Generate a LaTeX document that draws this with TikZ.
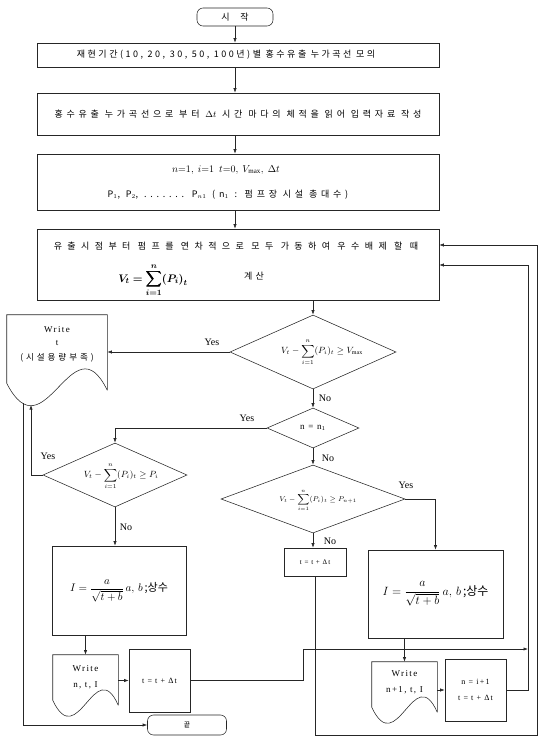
\documentclass[tikz,border=0pt]{standalone}
\usepackage{amsmath}
\usepackage{bm}
\usepackage{fontspec}
\setmainfont{Liberation Serif}
\newfontfamily\kr{Noto Sans CJK KR}[LetterSpace=35]
\newfontfamily\kra{Noto Sans CJK KR}[LetterSpace=28]
\newfontfamily\krb{Noto Sans CJK KR}[LetterSpace=42]
\newfontfamily\krw{Noto Sans CJK KR}[LetterSpace=60]
\newfontfamily\krn{Noto Sans CJK KR}
\newfontfamily\spc{Liberation Serif}[LetterSpace=15]
\usetikzlibrary{calc,arrows.meta,shapes.geometric}
\begin{document}
\begin{tikzpicture}[x=1pt,y=-1pt,line width=0.55pt,draw=black!85,
  >={Latex[length=4.5pt,width=3.2pt]},
  box/.style={draw,rectangle,inner sep=0pt},
  dia/.style={draw,diamond,inner sep=0pt},
  term/.style={draw,rounded corners=6pt,inner sep=0pt},
  ghost/.style={rectangle,inner sep=0pt},
  lab/.style={font=\fontsize{10}{12}\selectfont,inner sep=0pt},
  krt/.style={font=\kr\fontsize{9}{11}\selectfont},
  sm/.style={font=\spc\fontsize{8}{10}\selectfont,align=center,inner sep=0pt},
  frm/.style={font=\fontsize{9}{10}\selectfont,inner sep=0pt}
]
\useasboundingbox (0,0) rectangle (539,738);

% ---- nodes ----
\node[term,minimum width=76pt,minimum height=18pt,font=\krn\fontsize{9}{10}\selectfont] (start) at (235,17) {시\hspace{1.2em}작};
\node[box,minimum width=402pt,minimum height=24pt] (b1) at (238,55) {};
\node[inner sep=0pt,font=\kra\fontsize{9}{11}\selectfont] (b1t) at (226,55) {재현기간(10, 20, 30, 50, 100년)별 홍수유출 누가곡선 모의};
\node[box,minimum width=402pt,minimum height=42pt,font=\krb\fontsize{9}{11}\selectfont] (b2) at (238,114) {홍수유출 누가곡선으로 부터 {\rmfamily$\Delta t$} 시간 마다의 체적을 읽어 입력자료 작성};
\node[box,minimum width=402pt,minimum height=56pt] (b3) at (238,182) {};
\node[inner sep=0pt,font=\fontsize{10}{12}\selectfont] (b3a) at (226,170) {$n{=}1,\ i{=}1\ \ t{=}0,\ V_{\max},\ \Delta t$};
\node[inner sep=0pt,font=\krb\fontsize{9}{11}\selectfont] (b3b) at (228,195) {P$_1$, P$_2$, ....... P$_{n1}$ (n$_1$ : 펌프장 시설 총대수)};
\node[box,minimum width=402pt,minimum height=71pt] (b4) at (238,264.5) {};
\node[inner sep=0pt,font=\krw\fontsize{9}{11}\selectfont] (b4t) at (236,246) {유출시점부터 펌프를 연차적으로 모두 가동하여 우수배제 할 때};
\node[inner sep=0pt,font=\fontsize{11}{13}\selectfont] (b4f) at (153,280) {$\displaystyle\bm{V_t=\sum_{i=1}^{n}(P_i)_t}$};
\node[krt] (b4k) at (254,276) {계산};

\node[dia,minimum width=166pt,minimum height=74pt] (d1) at (313,352) {};
\node[frm] (d1t) at (322,352) {$V_t-\displaystyle\sum_{i=1}^{n}(P_i)_t\ge V_{\max}$};
\node[dia,minimum width=92pt,minimum height=40pt] (d2) at (313,428) {};
\node[frm] (d2t) at (313,428) {n\, =\, n$_1$};
\node[dia,minimum width=144pt,minimum height=64pt] (d3) at (115,475) {};
\node[frm,font=\fontsize{9}{10}\selectfont] (d3t) at (121,476) {$V_t-\displaystyle\sum_{i=1}^{n}(P_i)_t\ge P_i$};
\node[dia,minimum width=184pt,minimum height=68pt] (d4) at (313,499) {};
\node[frm,font=\fontsize{7.5}{9}\selectfont] (d4t) at (318,500) {$V_t-\displaystyle\sum_{i=1}^{n}(P_i)_t\ge P_{n+1}$};

\node[box,minimum width=62pt,minimum height=28pt,sm,font=\spc\fontsize{7}{8}\selectfont] (s1) at (315,562) {t = t + Δt};

\node[box,minimum width=134pt,minimum height=89pt,font=\fontsize{11}{13}\selectfont] (b5) at (119,590.5)
  {$I=\dfrac{a}{\sqrt{t+b}}\,a,\,b$\,{\krn ;상수}};
\node[box,minimum width=135pt,minimum height=88pt,font=\fontsize{12}{14}\selectfont] (b7) at (435.5,594)
  {$I=\dfrac{a}{\sqrt{t+b}}\,a,\,b$\,{\krn ;상수}};

\node[ghost,minimum width=100pt,minimum height=75pt] (w1) at (57,352.5) {};
\node[sm,font=\spc\fontsize{9}{10}\selectfont] (w1t) at (57,344) {Write\\[3pt] t\\[5pt] {\kr\fontsize{8.5}{10}\selectfont(시설용량부족)}};
\node[ghost,minimum width=65pt,minimum height=50pt] (w2) at (85.5,680) {};
\node[sm,font=\spc\fontsize{9}{10}\selectfont] (w2t) at (85.5,677) {Write\\[6pt] n, t, I};
\node[ghost,minimum width=65pt,minimum height=50pt] (w3) at (404.5,687) {};
\node[sm,font=\spc\fontsize{9}{10}\selectfont] (w3t) at (404.5,682) {Write\\[6pt] n+1, t, I};
\node[box,minimum width=61pt,minimum height=63pt,sm] (b6) at (159.5,680.5) {t = t + Δt};
\node[box,minimum width=61pt,minimum height=62pt,sm] (b8) at (475.5,690) {n = i+1\\[6pt] t = t + Δt};
\node[term,minimum width=79pt,minimum height=20pt,font=\krn\fontsize{7}{8}\selectfont] (end) at (187,725) {끝};

% ---- document shapes ----
\draw (w1.south east) -- (w1.north east) -- (w1.north west) -- ($(w1.south west)+(0,-7)$)
  .. controls ($(w1.south west)+(38,67)$) and ($(w1.south east)+(-35,-72)$) .. (w1.south east);
\draw (w2.south east) -- (w2.north east) -- (w2.north west) -- ($(w2.south west)+(0,-5)$)
  .. controls ($(w2.south west)+(25,48)$) and ($(w2.south east)+(-23,-52)$) .. (w2.south east);
\draw (w3.south east) -- (w3.north east) -- (w3.north west) -- ($(w3.south west)+(0,-5)$)
  .. controls ($(w3.south west)+(25,48)$) and ($(w3.south east)+(-23,-52)$) .. (w3.south east);

\coordinate (w1out) at (23,403);
\coordinate (w1in) at (31,405);
\coordinate (j1) at (303,649);
\coordinate (rj) at (528,649);
\coordinate (r1) at (528,265);
\coordinate (r2) at (537,245);
\coordinate (r2b) at (537,735);

% ---- labels ----
\node[lab] (y1) at (212,342) {Yes};
\node[lab] (n1) at (325,398) {No};
\node[lab] (y2) at (247,418) {Yes};
\node[lab] (n2) at (328,458) {No};
\node[lab] (y3) at (48,456) {Yes};
\node[lab] (n3) at (126,527) {No};
\node[lab] (y4) at (406,485) {Yes};
\node[lab] (n4) at (330,541) {No};

% ---- connectors ----
\draw[->] (start.south) -- (start.south |- b1.north);
\draw[->] (start.south |- b1.south) -- (start.south |- b2.north);
\draw[->] (start.south |- b2.south) -- (start.south |- b3.north);
\draw[->] (start.south |- b3.south) -- (start.south |- b4.north);
\draw[->] (d1.north |- b4.south) -- (d1.north);
\draw[->] (d1.west) -- (d1.west -| w1.east);
\draw[->] (d1.south) -- (d2.north);
\draw[->] (d2.west) -| (d3.north);
\draw[->] (d2.south) -- (d4.north);
\draw[->] (d3.west) -| (w1in);
\draw[->] (d3.south) -- (d3.south |- b5.north);
\draw[->] (d4.east) -| (b7.north);
\draw[->] (d4.south) -- (d4.south |- s1.north);
\draw[->] (w2.north |- b5.south) -- (w2.north);
\draw[->] (b6.west -| w2.east) -- (b6.west);
\draw[->] (b6.east) -| (j1) -- (rj);
\draw[->] (w3.north |- b7.south) -- (w3.north);
\draw[->] (b8.west -| w3.east) -- (b8.west);
\draw[->] (b8.east) -| (r1) -- (r1 -| b4.east);
\draw[->] (s1.south) |- (r2b) -- (r2) -- (r2 -| b4.east);
\draw[->] (w1out) |- (end.west);
\end{tikzpicture}
\end{document}
